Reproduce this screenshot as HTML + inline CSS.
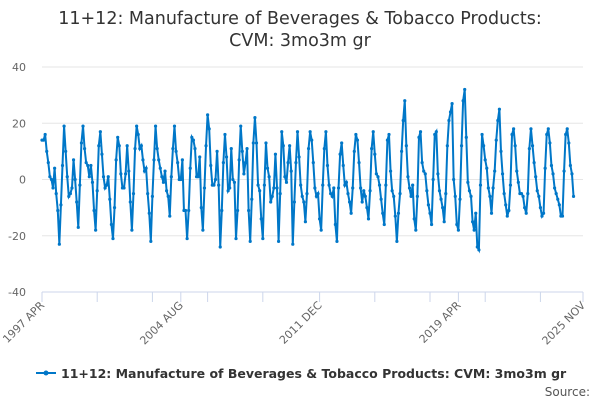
<!DOCTYPE html>
<html><head><meta charset="utf-8"><style>
body{margin:0;background:#fff;font-family:"DejaVu Sans",sans-serif;}
svg text{font-family:"DejaVu Sans",sans-serif;}
</style></head><body>
<svg id="c" width="600" height="400">
<text x="300" y="24" text-anchor="middle" font-size="17.5" fill="#333">11+12: Manufacture of Beverages &amp; Tobacco Products:</text>
<text x="300" y="46" text-anchor="middle" font-size="17.5" fill="#333">CVM: 3mo3m gr</text>
<g id="grid"></g><g id="series"></g>
<g>
<line x1="36" y1="373" x2="56" y2="373" stroke="#0077c8" stroke-width="2"/>
<circle cx="46" cy="373" r="2.5" fill="#0077c8"/>
<text x="61" y="378" font-size="12.5" font-weight="bold" fill="#333">11+12: Manufacture of Beverages &amp; Tobacco Products: CVM: 3mo3m gr</text>
</g>
<text x="590" y="396" text-anchor="end" font-size="12" fill="#555">Source:</text>
</svg>
<script>
const yTicks=[40,20,0,-20,-40];
const xLabels=["1997 APR","2004 AUG","2011 DEC","2019 APR","2025 NOV"];
const xLabelIdx=[0,88,176,264,343];
const values=[
14,14,16,10,6,1,0,-3,4,-5,-11,-23,
-9,5,19,10,1,-6,-5,-3,7,0,-8,-17,
-2,13,19,11,6,5,1,5,-1,-11,-18,-4,
12,17,9,1,-3,-2,1,-7,-16,-21,-10,7,
15,12,2,-3,-3,2,12,3,-8,-18,-5,11,
19,16,11,12,7,3,4,-5,-12,-22,-6,7,
19,11,7,4,1,-1,3,-4,-6,-13,1,11,
19,10,6,0,0,7,-11,-11,-21,-11,4,15,
14,11,1,1,8,-10,-18,-3,12,23,18,5,
-2,-2,0,10,-2,-24,-11,6,16,8,-4,-3,
11,0,-1,-21,-11,7,19,10,2,6,11,-11,
-22,-7,13,22,13,-2,-4,-14,-21,-2,13,4,
1,-8,-6,-3,9,-3,-22,-5,17,12,1,-1,
6,12,3,-23,-8,6,17,8,-2,-6,-8,-15,
-5,11,17,14,6,-3,-6,-5,-14,-18,-2,11,
17,5,-2,-5,-6,-3,-16,-22,-3,9,13,5,
-2,-1,-5,-8,-12,-3,10,16,14,6,-3,-8,
-4,-6,-10,-14,-4,11,17,9,2,1,-2,-7,
-12,-16,-2,14,16,3,-4,-6,-13,-22,-12,-5,
10,21,28,12,1,-3,-6,-2,-14,-18,-6,15,
17,6,3,2,-4,-9,-12,-16,0,16,17,2,
-4,-7,-10,-15,-5,12,21,24,27,0,-6,-16,
-18,-7,12,28,32,15,-1,-4,-6,-15,-18,-12,
-24,-25,-2,16,12,7,4,-3,-6,-12,-3,3,
14,21,25,10,2,-5,-9,-13,-11,-2,16,18,
12,3,-1,-5,-5,-6,-10,-12,-5,11,18,12,
6,1,-4,-6,-10,-13,-12,4,16,18,13,5,
2,-3,-5,-7,-9,-13,-13,3,16,18,13,5,
2,-6];
const X=i=>42+i*(541/343), Y=v=>179.5-v*(225/80);
const ns="http://www.w3.org/2000/svg";
const g=document.getElementById('grid'), s=document.getElementById('series');
yTicks.forEach(t=>{
 const l=document.createElementNS(ns,'line');
 
 
 l.setAttribute('x1',42);l.setAttribute('x2',583);l.setAttribute('y1',Y(t));l.setAttribute('y2',Y(t));
 l.setAttribute('stroke',t==-40?'#ccd6eb':'#e6e6e6');l.setAttribute('stroke-width',1);g.appendChild(l);
 const tx=document.createElementNS(ns,'text');
 
 
 tx.setAttribute('x',26);tx.setAttribute('y',Y(t)+4);tx.setAttribute('text-anchor','end');tx.setAttribute('font-size','11');tx.setAttribute('fill','#666');tx.textContent=t;g.appendChild(tx);
});
[0,35,70,88,105,140,176,211,246,264,281,316,343].forEach(i=>{
 const l=document.createElementNS(ns,'line');
 
 
 l.setAttribute('x1',X(i));l.setAttribute('x2',X(i));l.setAttribute('y1',292);l.setAttribute('y2',302);l.setAttribute('stroke','#ccd6eb');g.appendChild(l);
});
xLabels.forEach((t,k)=>{
 const tx=document.createElementNS(ns,'text');
 
 
 const x=X(xLabelIdx[k]);
 tx.setAttribute('x',x+3);tx.setAttribute('y',306);tx.setAttribute('text-anchor','end');tx.setAttribute('font-size','11');tx.setAttribute('fill','#666');
 tx.setAttribute('transform',`rotate(-45 ${x+3} 306)`);tx.textContent=t;g.appendChild(tx);
});
const p=document.createElementNS(ns,'path');


p.setAttribute('d',values.map((v,i)=>(i?'L':'M')+X(i).toFixed(2)+' '+Y(v).toFixed(2)).join(''));
p.setAttribute('fill','none');p.setAttribute('stroke','#0077c8');p.setAttribute('stroke-width','2');s.appendChild(p);
values.forEach((v,i)=>{
 const c=document.createElementNS(ns,'circle');
 
 
 c.setAttribute('cx',X(i));c.setAttribute('cy',Y(v));c.setAttribute('r',1.6);c.setAttribute('fill','#0077c8');s.appendChild(c);
});
</script>
</body></html>
